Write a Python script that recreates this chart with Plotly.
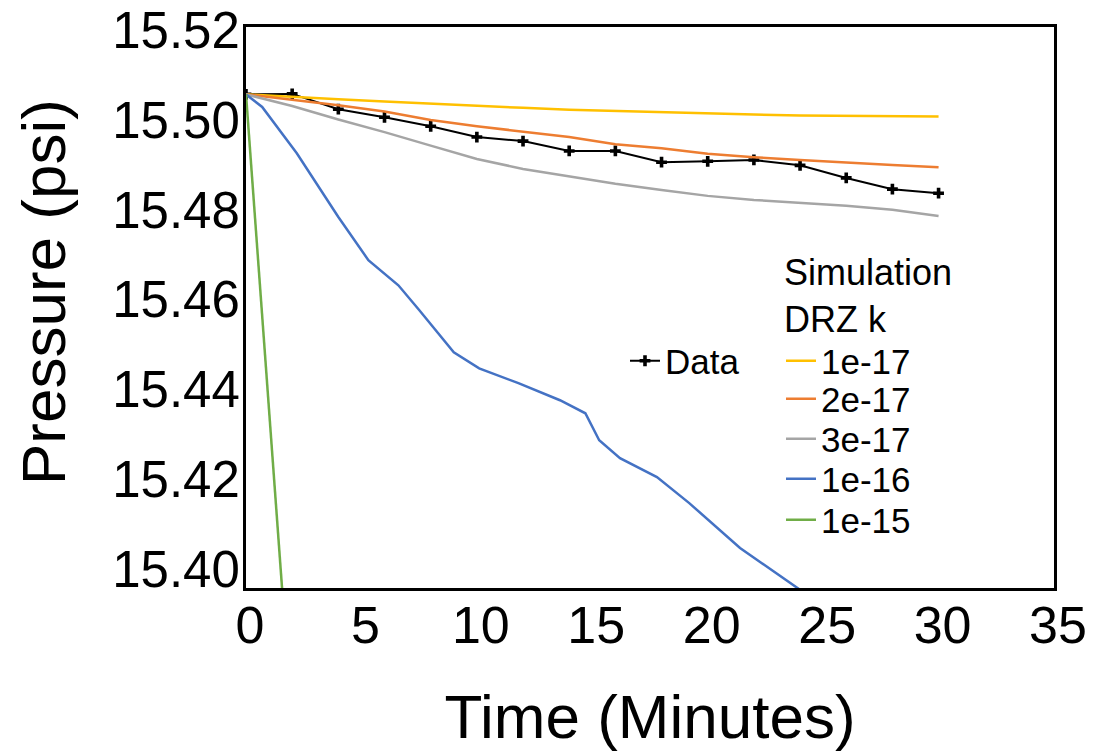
import plotly.graph_objects as go

# ---- data ----
time_data = [0, 2, 4, 6, 8, 10, 12, 14, 16, 18, 20, 22, 24, 26, 28, 30]
pressure_data = [15.5068, 15.5069, 15.5035, 15.5017, 15.4997, 15.4973, 15.4964, 15.4942,
                 15.4942, 15.4917, 15.4919, 15.4922, 15.4910, 15.4882, 15.4857, 15.4848]

time_sim = [0, 2, 4, 6, 8, 10, 12, 14, 16, 18, 20, 22, 24, 26, 28, 30]
sim_1e17 = [15.5068, 15.5062, 15.5057, 15.5052, 15.5047, 15.5042, 15.5038, 15.5034,
            15.5031, 15.5028, 15.5025, 15.5023, 15.5021, 15.5020, 15.5020, 15.5019]
sim_2e17 = [15.5068, 15.5056, 15.5044, 15.5030, 15.5011, 15.4997, 15.4985, 15.4973,
            15.4957, 15.4948, 15.4936, 15.4928, 15.4922, 15.4916, 15.4911, 15.4906]
sim_3e17 = [15.5068, 15.5042, 15.5012, 15.4984, 15.4954, 15.4924, 15.4902, 15.4886,
            15.4869, 15.4855, 15.4842, 15.4833, 15.4827, 15.4820, 15.4811, 15.4797]

time_1e16 = [0, 0.7, 2.2, 4.0, 5.3, 6.6, 7.5, 8.4, 9.0, 10.1, 11.8, 13.6, 14.7, 15.3,
             16.2, 17.8, 19.2, 21.4, 23.5, 24.0]
sim_1e16 = [15.5068, 15.5040, 15.4937, 15.4795, 15.4699, 15.4643, 15.4588, 15.4532,
            15.4494, 15.4458, 15.4425, 15.4387, 15.4358, 15.4298, 15.4258, 15.4216,
            15.4158, 15.4058, 15.3982, 15.3965]

time_1e15 = [0, 0.39, 1.34, 1.6]
sim_1e15 = [15.5068, 15.4795, 15.4120, 15.3942]

sim_names = ["1e-17", "2e-17", "3e-17", "1e-16", "1e-15"]
sim_colors = ["#FFC000", "#ED7D31", "#A5A5A5", "#4472C4", "#70AD47"]

# ---- layout helpers (pixel -> paper) ----
L, R, T, B = 246, 40, 27, 167
W, H = 1094, 755
PW, PH = W - L - R, H - T - B


def px(x):
    return (x - L) / PW


def py(y):
    return (H - B - y) / PH


FONT = "Liberation Sans, Arial, sans-serif"

fig = go.Figure()

fig.add_trace(go.Scatter(
    x=time_data, y=pressure_data, name="Data", mode="lines+markers",
    line=dict(color="black", width=2),
    marker=dict(symbol="cross", size=9, color="black"),
    legend="legend",
))

sim_x = [time_sim, time_sim, time_sim, time_1e16, time_1e15]
sim_y = [sim_1e17, sim_2e17, sim_3e17, sim_1e16, sim_1e15]
legend_ids = ["legend2", "legend3", "legend4", "legend5", "legend6"]
for xs, ys, nm, col, lg in zip(sim_x, sim_y, sim_names, sim_colors, legend_ids):
    fig.add_trace(go.Scatter(
        x=xs, y=ys, name=nm, mode="lines",
        line=dict(color=col, width=2.5),
        legend=lg,
    ))

leg_font = dict(family=FONT, size=35, color="black")


def leg(x, y):
    return dict(x=px(x), y=py(y), xanchor="left", yanchor="middle",
                font=leg_font, bgcolor="rgba(0,0,0,0)", borderwidth=0)


legend_rows = [361, 399, 439, 479, 520]

layout_legends = {"legend": leg(625, 361)}
for lg, yy in zip(legend_ids, legend_rows):
    layout_legends[lg] = leg(781, yy)

fig.update_layout(
    width=W, height=H,
    margin=dict(l=L, r=R, t=T, b=B, pad=0, autoexpand=False),
    paper_bgcolor="white", plot_bgcolor="white",
    font=dict(family=FONT, color="black"),
    showlegend=True,
    **layout_legends,
    annotations=[
        dict(text="Simulation<br>DRZ k", x=px(782), y=py(296), xref="paper", yref="paper",
             xanchor="left", yanchor="middle", align="left", showarrow=False,
             font=dict(family=FONT, size=36, color="black")),
        dict(text="Pressure (psi)", x=px(43), y=py(292), xref="paper", yref="paper",
             xanchor="center", yanchor="middle", textangle=-90, showarrow=False,
             font=dict(family=FONT, size=62, color="black")),
    ],
    xaxis=dict(
        range=[0, 35], dtick=5, tick0=0, automargin=False,
        showgrid=False, zeroline=False,
        showline=True, mirror=True, linecolor="black", linewidth=3,
        ticks="", ticklabelstandoff=-10, ticklabelshift=4,
        tickfont=dict(family=FONT, size=52, color="black"),
        title=dict(text="Time (Minutes)", font=dict(family=FONT, size=62, color="black"),
                   standoff=42),
    ),
    yaxis=dict(
        range=[15.3969, 15.5218], automargin=False,
        tickvals=[15.40, 15.42, 15.44, 15.46, 15.48, 15.50, 15.52],
        tickformat=".2f",
        showgrid=False, zeroline=False,
        showline=True, mirror=True, linecolor="black", linewidth=3,
        ticks="", ticklabelstandoff=-7, ticklabelshift=-5,
        tickfont=dict(family=FONT, size=51, color="black"),
    ),
)

fig.write_html("out.html")
